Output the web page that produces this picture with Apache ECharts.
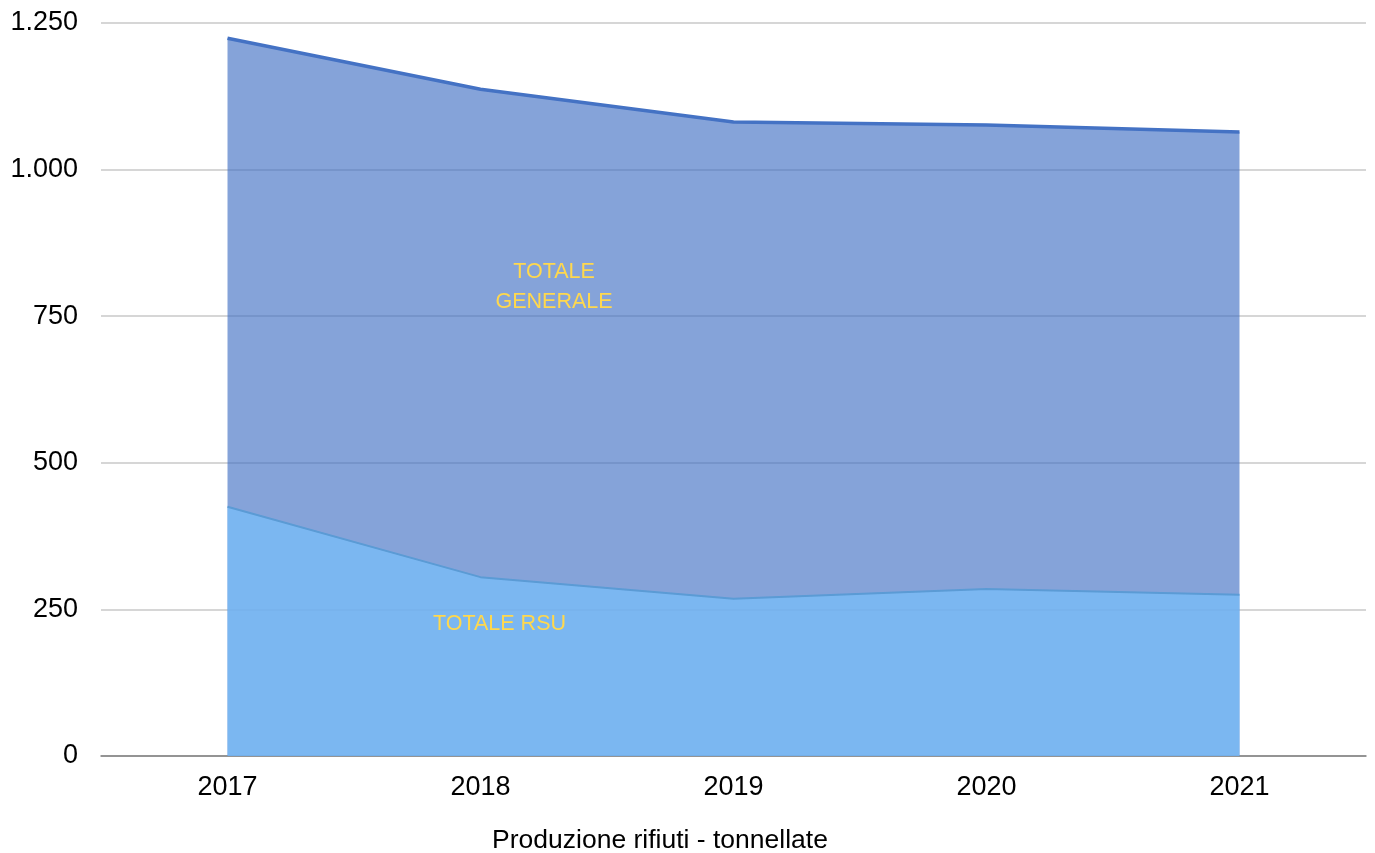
<!DOCTYPE html>
<html><head><meta charset="utf-8">
<script src="https://cdn.jsdelivr.net/npm/echarts@6/dist/echarts.min.js"></script>
<style>html,body{margin:0;padding:0;background:#fff}#c{width:1375px;height:853px}</style>
</head><body><div id="c"></div>
<script>
const years = ['2017','2018','2019','2020','2021'];
const totaleGenerale = [1224, 1137, 1081, 1076, 1064];
const totaleRSU = [425, 305, 268, 285, 275];
const yTicks = [0, 250, 500, 750, 1000, 1250];
const xTitle = 'Produzione rifiuti - tonnellate';

const chart = echarts.init(document.getElementById('c'));
const font = 'Liberation Sans, Arial, sans-serif';
chart.setOption({
  animation: false,
  title: {text: xTitle, left: 655, top: 822, textAlign: 'center',
    textStyle: {fontFamily: font, fontSize: 26.5, fontWeight: 'normal', color: '#000'}},
  grid: {left: 101, right: 9, top: 23, bottom: 97},
  xAxis: {
    type: 'category', data: years, boundaryGap: true,
    axisLine: {lineStyle: {color: '#7f7f7f', width: 1.5}},
    axisTick: {show: false},
    axisLabel: {fontFamily: font, fontSize: 27, color: '#000', margin: 18}
  },
  yAxis: {
    type: 'value', min: yTicks[0], max: yTicks[yTicks.length-1], interval: 250,
    axisLine: {show: false}, axisTick: {show: false},
    splitLine: {lineStyle: {color: '#c8c8c8', width: 1.5}},
    axisLabel: {fontFamily: font, fontSize: 27, color: '#000', margin: 23, lineHeight: 32, verticalAlign: 'middle',
      formatter: v => String(v).replace(/\B(?=(\d{3})+(?!\d))/g, '.')}
  },
  series: [
    {name: 'TOTALE GENERALE', type: 'line', data: totaleGenerale, symbol: 'none',
     lineStyle: {color: '#4472c4', width: 3.5},
     areaStyle: {color: '#4472c4', opacity: 0.65, origin: 'start'}},
    {name: 'TOTALE RSU', type: 'line', data: totaleRSU, symbol: 'none',
     lineStyle: {color: '#5b9bd5', width: 2},
     areaStyle: {color: 'rgb(121,188,246)', opacity: 0.8, origin: 'start'}}
  ],
  graphic: [
    {type: 'text', z: 100, x: 554, y: 257, style: {text: 'TOTALE\nGENERALE', fill: '#ffd84d',
      font: '21.5px ' + font, align: 'center', lineHeight: 30}},
    {type: 'text', z: 100, x: 433, y: 613, style: {text: 'TOTALE RSU', fill: '#ffd84d',
      font: '21.5px ' + font}}
  ]
});
</script></body></html>
